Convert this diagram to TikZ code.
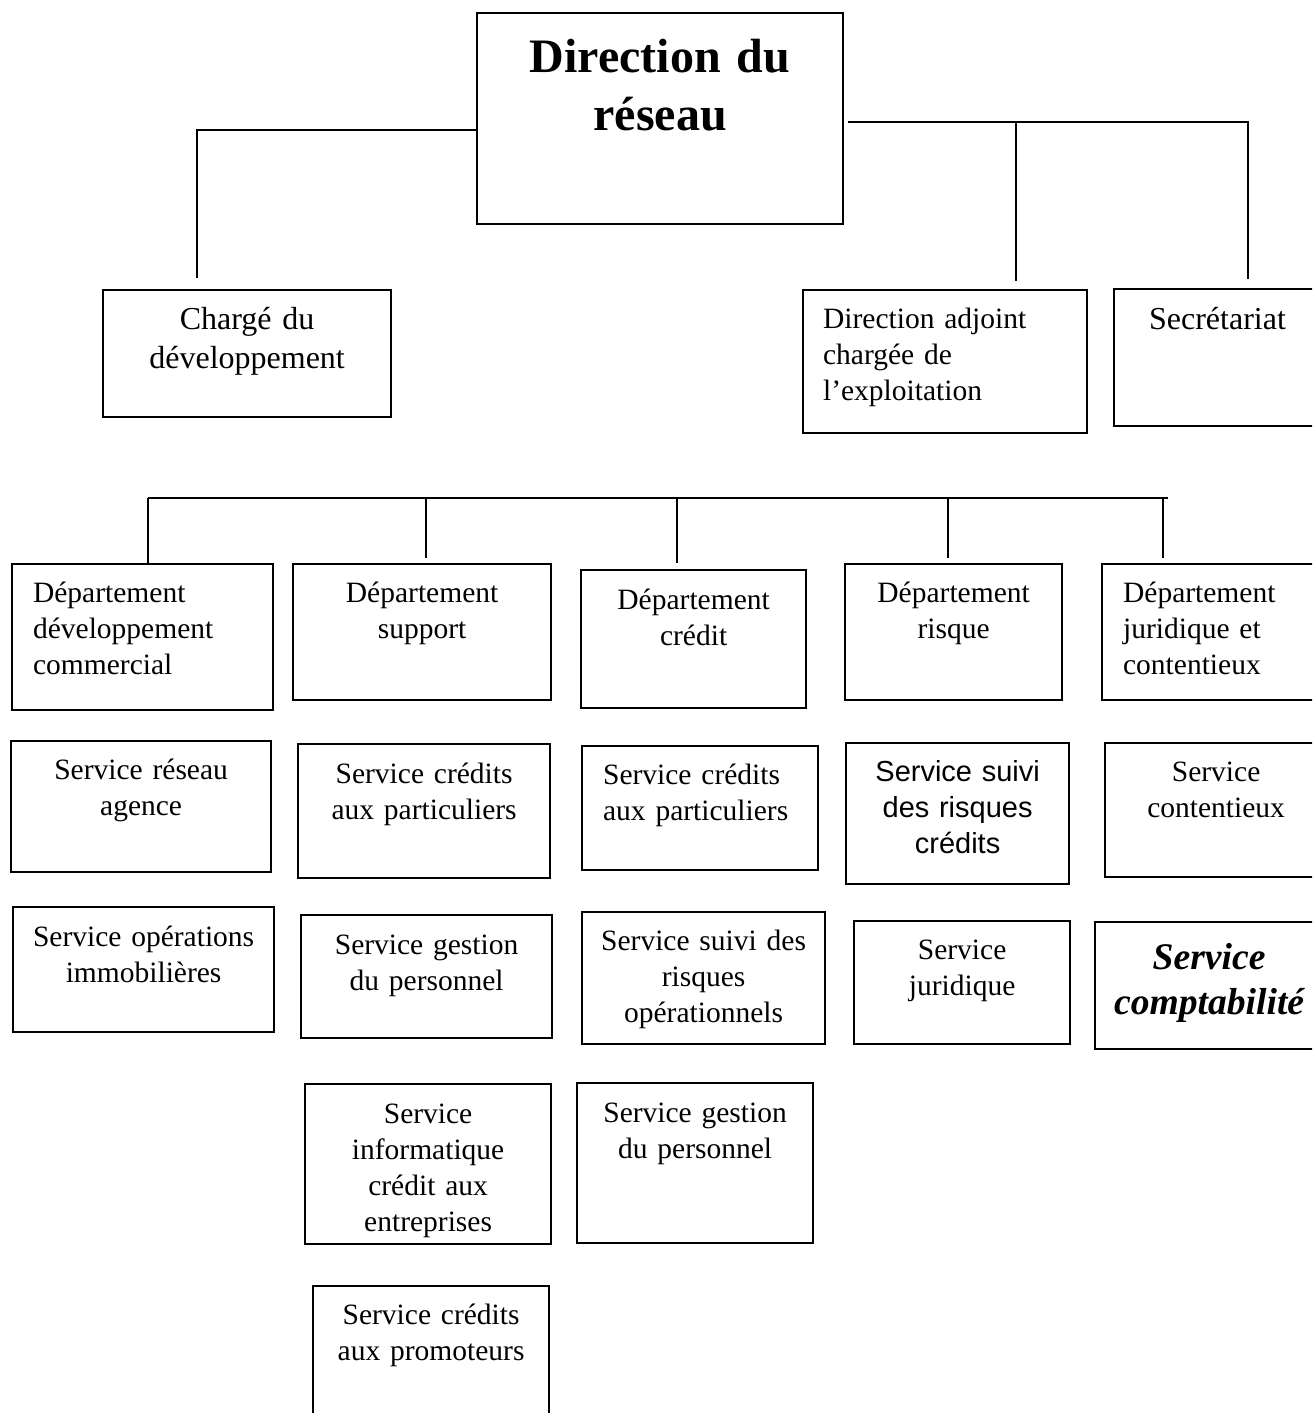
\documentclass[tikz,border=0pt]{standalone}
\usepackage{fontspec}
\setmainfont{Liberation Serif}
\newfontfamily\arialf{Liberation Sans}
\begin{document}
\begin{tikzpicture}[x=1pt,y=-1pt,
  box/.style={draw, line width=2.2pt, inner sep=0pt, anchor=north west,
              font=\fontsize{29.5}{36}\selectfont},
  ctr/.style={align=center},
  lft/.style={align=left},
  big/.style={font=\fontsize{32}{39}\selectfont},
  conn/.style={line width=1.4pt}]
\useasboundingbox (0,0) rectangle (1312,1413);
\clip (0,0) rectangle (1312,1413);

% top level
\node[box, ctr, font=\bfseries\fontsize{48}{58}\selectfont, text width=366pt, text height=59pt, text depth=152pt] (dir) at (476,12) {Direction du\\réseau};
\node[box, ctr, big, text width=288pt, text height=39pt, text depth=88pt] (chg) at (102,289) {Chargé du\\développement};
\node[box, lft, inner xsep=20pt, text width=244pt, text height=38pt, text depth=105pt] (adj) at (802,289) {Direction adjoint\\chargée de\\l’exploitation};
\node[box, lft, big, inner xsep=35pt, text width=160pt, text height=40pt, text depth=97pt] (sec) at (1113,288) {Secrétariat};

% connectors from the direction
\coordinate (lA) at (197,130);
\coordinate (lB) at (197,278);
\draw[conn] (dir.west |- lA) -- (lA) -- (lB);
\coordinate (rA) at (1248,122);
\coordinate (rB) at (1248,279);
\coordinate (mA) at (1016,123);
\coordinate (mB) at (1016,281);
\draw[conn] ([xshift=4pt]dir.east |- rA) -- (rA) -- (rB);
\draw[conn] (mA) -- (mB);

% departments
\node[box, lft, inner xsep=21pt, text width=219pt, text height=38pt, text depth=108pt] (d1) at (11,563) {Département\\développement\\commercial};
\node[box, ctr, text width=258pt, text height=38pt, text depth=98pt] (d2) at (292,563) {Département\\support};
\node[box, ctr, text width=225pt, text height=39pt, text depth=99pt] (d3) at (580,569) {Département\\crédit};
\node[box, ctr, text width=217pt, text height=38pt, text depth=98pt] (d4) at (844,563) {Département\\risque};
\node[box, lft, inner xsep=21pt, text width=188pt, text height=38pt, text depth=98pt] (d5) at (1101,563) {Département\\juridique et\\contentieux};

% department bus
\coordinate (b1) at (148,498);
\coordinate (b2) at (426,498);
\coordinate (b3) at (677,498);
\coordinate (b4) at (948,498);
\coordinate (b5) at (1163,498);
\coordinate (bR) at (1168,498);
\draw[conn] (b1) -- (bR);
\draw[conn] (b1) -- (b1 |- d1.north);
\draw[conn, shorten >=5pt] (b2) -- (b2 |- d2.north);
\draw[conn, shorten >=6pt] (b3) -- (b3 |- d3.north);
\draw[conn, shorten >=5pt] (b4) -- (b4 |- d4.north);
\draw[conn, shorten >=5pt] (b5) -- (b5 |- d5.north);

% services row 1
\node[box, ctr, text width=260pt, text height=38pt, text depth=93pt] (s11) at (10,740) {Service réseau\\agence};
\node[box, ctr, text width=252pt, text height=39pt, text depth=95pt] (s12) at (297,743) {Service crédits\\aux particuliers};
\node[box, lft, inner xsep=21pt, text width=194pt, text height=38pt, text depth=86pt] (s13) at (581,745) {Service crédits\\aux particuliers};
\node[box, ctr, font=\arialf\fontsize{29}{36}\selectfont, text width=223pt, text height=38pt, text depth=103pt] (s14) at (845,742) {Service suivi\\des risques\\crédits};
\node[box, ctr, text width=222pt, text height=38pt, text depth=96pt] (s15) at (1104,742) {Service\\contentieux};

% services row 2
\node[box, ctr, text width=261pt, text height=39pt, text depth=86pt] (s21) at (12,906) {Service opérations\\immobilières};
\node[box, ctr, text width=251pt, text height=39pt, text depth=84pt] (s22) at (300,914) {Service gestion\\du personnel};
\node[box, ctr, text width=243pt, text height=38pt, text depth=94pt] (s23) at (581,911) {Service suivi des\\risques\\opérationnels};
\node[box, ctr, text width=216pt, text height=38pt, text depth=85pt] (s24) at (853,920) {Service\\juridique};
\node[box, ctr, font=\bfseries\itshape\fontsize{37.6}{45}\selectfont, text width=228pt, text height=47pt, text depth=80pt] (s25) at (1094,921) {Service\\comptabilité};

% services row 3
\node[box, ctr, text width=246pt, text height=39pt, text depth=121pt] (s31) at (304,1083) {Service\\informatique\\crédit aux\\entreprises};
\node[box, ctr, text width=236pt, text height=39pt, text depth=121pt] (s32) at (576,1082) {Service gestion\\du personnel};

% services row 4
\node[box, ctr, text width=236pt, text height=38pt, text depth=112pt] (s41) at (312,1285) {Service crédits\\aux promoteurs};
\end{tikzpicture}
\end{document}
